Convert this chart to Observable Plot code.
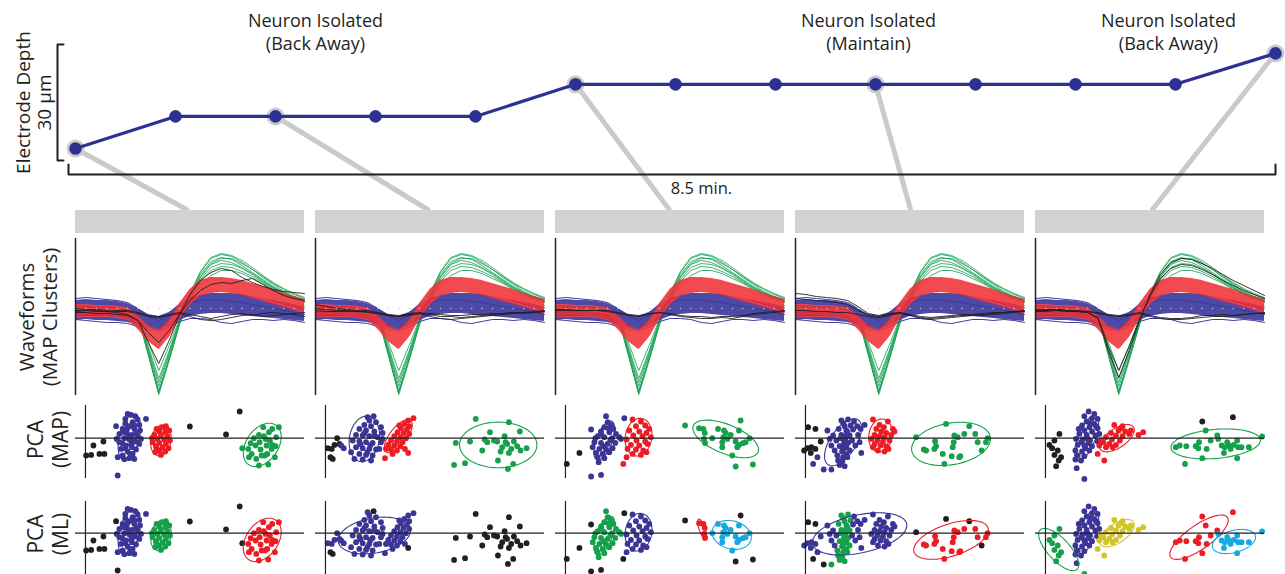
<!DOCTYPE html>
<html><head><meta charset="utf-8">
<script src="https://cdn.jsdelivr.net/npm/d3@7"></script>
<script src="https://cdn.jsdelivr.net/npm/@observablehq/plot@0.6"></script>
<style>
body{margin:0;background:#fff;}
#fig{position:relative;width:1285px;height:574px;overflow:hidden;background:#fff;}
</style></head><body><div id="fig"></div>
<script>
// ---------------- DATA ----------------
const panels = ["A","B","C","D","E"];
const steps = [0,1,2,3,4,5,6,7,8,9,10,11,12];
const depthUm = [3.1,11.4,11.4,11.4,11.4,19.7,19.7,19.7,19.7,19.7,19.7,19.7,27.7];
const sampledSteps = [0,2,5,8,12];
const annotT = [2.4, 7.93, 10.93];
const annotText = ["Neuron Isolated\n(Back Away)","Neuron Isolated\n(Maintain)","Neuron Isolated\n(Back Away)"];
const scaleBarUm = [0, 30];
const scaleBarLabel = "Electrode Depth\n30 μm";
const durationLabel = "8.5 min.";
const rowLabels = ["Waveforms\n(MAP Clusters)","PCA\n(MAP)","PCA\n(ML)"];
const sampleIdx = d3.range(23);

// waveform traces (23 samples), shared shapes
const greenTraces = [
 [0,0,1,1,0,0,-6,-45,-84,-50,-14,16,38,52,56,54,48,41,33,26,19,14,10],
 [-2,-1,0,0,-1,-2,-6,-40,-76,-44,-12,13,33,46,50,48,43,37,30,23,17,12,8],
 [1,1,2,1,0,-1,-5,-36,-68,-40,-10,12,29,40,44,43,39,34,28,22,17,13,10],
 [0,1,0,-1,-1,-2,-6,-32,-60,-35,-8,10,25,35,40,40,37,32,27,21,16,12,8],
 [-3,-2,-2,-1,-2,-3,-7,-42,-80,-48,-13,14,34,47,52,52,47,41,34,27,21,16,12],
 [2,2,1,1,1,0,-5,-43,-82,-47,-12,15,36,49,53,51,45,38,31,24,18,13,9],
 [-1,0,0,1,0,-1,-5,-38,-72,-42,-11,12,31,43,47,46,42,36,29,23,18,14,11],
 [1,0,-1,0,0,-1,-6,-44,-83,-49,-13,17,39,53,57,55,50,43,35,28,22,17,13]
];
const redHi = [5,5,5,5,4,3,-5,-15,-20,-10,7,21,30,33,33,32,30,27,24,21,17,14,11];
const redLo = [-5,-5,-5,-6,-7,-9,-19,-31,-39,-27,-9,5,14,17,18,17,15,12,9,6,3,0,-4];
const redTraces = [
 [1,0,0,0,-1,-3,-12,-23,-29,-18,0,14,22,25,25,24,22,19,16,13,10,7,3],
 [6,6,5,5,4,2,-7,-17,-22,-12,5,19,27,31,31,30,28,25,22,18,14,11,8],
 [-6,-6,-6,-6,-7,-9,-17,-30,-38,-25,-6,8,17,20,20,19,17,14,11,8,5,2,-2],
 [3,2,2,1,1,-1,-9,-20,-26,-15,3,17,25,28,29,28,27,24,21,17,13,9,5]
];
const blueHi = [10,11,10,10,9,7,2,-4,-6,-2,6,12,15,17,17,17,16,14,12,10,8,6,4];
const blueLo = [-10,-9,-10,-10,-11,-12,-15,-18,-20,-16,-10,-6,-4,-3,-3,-4,-5,-6,-7,-8,-9,-10,-11];
const blueTraces = [
 [12,13,12,11,10,8,2,-6,-10,-5,3,8,10,11,10,9,8,6,4,2,0,-2,-4],
 [-9,-10,-11,-12,-12,-13,-16,-19,-20,-17,-11,-8,-8,-9,-12,-13,-11,-9,-9,-10,-9,-10,-12]
];
const blackTraces = {
 A: [[2,1,0,-1,-2,-4,-10,-32,-53,-30,-4,16,30,38,42,40,33,28,24,21,19,18,17],
     [-2,-2,-3,-3,-4,-5,-10,-22,-32,-20,-4,10,20,26,28,27,30,32,26,20,15,12,10],
     [0,0,-1,-1,0,0,-2,-5,-6,-4,-2,-4,-6,-8,-6,-4,-3,-5,-3,-2,-3,-4,-6],
     [-1,0,1,0,-1,-1,-3,-6,-7,-5,-3,-6,-9,-10,-9,-7,-5,-4,-6,-5,-4,-3,-2]],
 B: [[6,4,2,1,0,0,-2,-4,-5,-3,-2,-4,-6,-6,-7,-6,-5,-4,-3,-2,-3,-2,-1],
     [2,1,0,0,-1,-1,-3,-5,-6,-4,-3,-6,-8,-9,-8,-7,-6,-5,-4,-3,-2,-2,-1],
     [0,-1,-1,-1,-1,-2,-3,-5,-6,-5,-3,-3,-4,-5,-5,-4,-4,-3,-3,-2,-2,-1,0]],
 C: [[0,0,0,0,0,0,-2,-4,-5,-3,-2,-3,-5,-6,-6,-7,-6,-6,-5,-3,-2,-1,0],
     [1,1,0,0,0,-1,-3,-5,-6,-4,-2,-4,-6,-7,-8,-8,-7,-8,-6,-4,-3,-2,-1]],
 D: [[17,16,14,13,12,10,4,-3,-5,-3,-2,-5,-7,-8,-7,-6,-5,-5,-4,-3,-2,-1,0],
     [12,11,10,9,8,6,0,-4,-6,-4,-2,-4,-6,-7,-6,-5,-4,-4,-3,-2,-2,-1,-1],
     [0,0,-1,-1,-2,-2,-4,-6,-7,-5,-3,-5,-8,-9,-8,-7,-6,-5,-5,-4,-3,-2,-1]],
 E: [[0,0,1,0,-1,-2,-8,-40,-67,-40,-10,16,36,48,52,51,47,42,36,30,25,20,15],
     [1,0,0,-1,-1,-2,-7,-36,-60,-36,-8,14,32,42,46,45,41,36,30,25,20,16,12],
     [-1,-1,0,0,0,-1,-2,-4,-5,-4,-2,-5,-7,-8,-8,-7,-5,-5,-4,-5,-4,-3,-2],
     [0,1,1,0,-1,-1,-3,-5,-6,-5,-3,-6,-8,-9,-9,-8,-7,-6,-6,-5,-4,-3,-3]]
};

// PCA points: groups by [MAP label, ML label]
const pcaA = [
 ["k","k",[[0.07,-1.73],[0.57,-1.67],[0.8,-0.73],[1.8,-0.33],[1.4,-1.57],[1.9,-1.57],[10.47,1.17],[14.1,0.37],[15.47,2.67]]],
 ["b","b",[[4.23,2.43],[4.57,2.33],[5.0,2.2],[5.23,1.87],[4.0,1.93],[4.73,1.6],[5.4,1.33],[4.4,1.2],[3.73,0.93],[4.9,0.93],[5.47,0.77],[4.13,0.6],[3.4,0.43],[4.67,0.33],[5.23,0.2],[3.9,0],[4.4,-0.13],[5.0,-0.33],[3.4,-0.4],[5.4,-0.57],[4.07,-0.73],[4.67,-0.9],[3.57,-1.07],[5.07,-1.13],[4.23,-1.33],[4.73,-1.57],[3.73,-1.73],[4.4,-2.0],[4.9,-2.07],[3.23,-1.9],[5.57,-0.07],[3.13,-0.07],[6.07,1.93],[4.0,1.5],[4.9,1.3],[4.3,0.3],[3.7,-0.5],[4.8,-0.2],[4.0,-1.0],[4.5,-1.6],[3.9,-2.1],[4.2,1.0],[5.1,0.5],[3.9,0.6],[4.6,-0.6]]],
 ["b","k",[[3.07,1.2],[3.23,-3.73]]],
 ["r","g",[[7.13,0.93],[7.67,1.1],[8.07,1.2],[7.4,0.67],[8.0,0.6],[8.4,0.77],[6.9,0.33],[7.57,0.27],[8.23,0.2],[7.23,-0.07],[7.9,-0.13],[8.47,-0.23],[6.73,-0.4],[7.4,-0.47],[8.07,-0.57],[7.07,-0.8],[7.73,-0.9],[8.33,-1.0],[7.4,-1.23],[8.0,-1.33],[7.0,-1.4],[7.57,-1.67],[7.13,-1.07],[8.13,0.93],[6.67,0]]],
 ["g","r",[[16.57,-0.5],[16.33,-1.07],[16.67,-1.57],[17.07,-0.73],[16.9,0],[17.4,0.33],[17.47,-0.4],[17.57,-1.13],[17.67,-1.73],[18.07,-0.07],[18.17,-0.73],[18.23,-1.57],[18.4,0.6],[18.5,-0.23],[18.73,-0.67],[18.67,-1.07],[19.07,-0.8],[19.13,0.1],[19.4,1.1],[18.73,0.93],[17.83,1.1],[18.33,-2.63],[17.4,-2.73],[19.0,-1.9],[17.13,-2.07],[16.4,-1.9],[17.9,0.2],[18.0,-1.73]]],
 ["g","k",[[15.73,-1.0]]]
];
const pcaB = [
 ["k","b",[[0.23,-1.0],[0.63,-1.07],[0.9,-0.67],[1.17,0],[1.4,-0.57]]],
 ["k","k",[[0.5,-1.9],[0.73,-2.07]]],
 ["b","b",[[4.4,1.77],[5.07,1.6],[3.9,1.33],[4.57,1.2],[5.57,1.1],[3.4,0.93],[4.07,0.77],[4.9,0.67],[5.73,0.53],[3.07,0.33],[3.73,0.27],[4.4,0.2],[5.23,0.1],[2.73,-0.23],[3.4,-0.33],[4.07,-0.4],[4.73,-0.47],[5.57,-0.4],[3.07,-0.9],[3.73,-1.0],[4.4,-1.07],[5.07,-1.13],[2.57,-1.4],[3.4,-1.57],[4.07,-1.67],[4.73,-1.73],[2.9,-2.07],[3.73,-2.13],[4.57,-2.23],[5.4,-1.07],[5.73,-0.07],[1.57,-0.73],[1.83,-1.0],[4.23,2.1],[3.9,0.5],[4.5,-0.7],[3.5,-0.6],[4.2,-1.4],[4.9,0.3]]],
 ["b","k",[[4.83,2.2]]],
 ["r","b",[[8.83,2.0],[8.3,1.77],[7.9,1.43],[8.4,1.2],[7.57,1.0],[8.17,0.87],[7.23,0.6],[7.83,0.53],[8.4,0.43],[6.9,0.2],[7.5,0.1],[8.07,0],[6.57,-0.23],[7.17,-0.33],[7.73,-0.4],[6.3,-0.67],[6.9,-0.73],[7.5,-0.8],[6.57,-1.13],[7.17,-1.23],[6.07,-1.07],[6.73,-1.57],[5.97,-2.0],[7.97,-1.07],[7.4,1.27]]],
 ["r","k",[[8.3,-1.47]]],
 ["g","k",[[15.07,1.93],[18.4,1.6],[19.5,0.67],[16.5,0.6],[17.97,0.2],[15.97,-0.13],[14.5,-0.33],[13.07,-0.47],[16.23,-0.4],[17.23,-0.33],[18.9,-0.33],[18.23,-0.57],[19.23,-0.8],[17.73,-0.9],[18.63,-1.07],[15.73,-1.23],[17.57,-1.33],[18.4,-1.47],[20.17,-1.0],[19.57,-1.23],[17.3,-2.23],[18.83,-2.57],[18.3,-3.07],[14.0,-2.5],[12.9,-2.67],[18.07,-0.4],[16.9,-0.23]]]
];
const pcaC = [
 ["k","k",[[1.4,-1.47],[0.13,-2.57]]],
 ["b","g",[[4.07,2.2],[4.23,1.6],[4.57,1.33],[3.9,1.1],[4.8,0.93],[3.57,0.67],[4.4,0.6],[5.07,0.43],[3.23,0.2],[3.9,0.1],[4.67,0],[5.4,0.1],[2.9,-0.4],[3.57,-0.47],[4.23,-0.57],[5.0,-0.47],[2.73,-0.9],[3.4,-1.07],[4.07,-1.13],[4.73,-1.0],[3.07,-1.47],[3.73,-1.57],[4.4,-1.4],[3.23,-1.9],[3.9,-2.0],[3.33,-2.4],[5.57,-0.07],[3.0,0],[4.3,1.0],[3.8,-0.8],[4.5,-0.2],[3.6,0.4]]],
 ["b","k",[[2.57,0.87],[5.9,2.0],[2.57,-3.83],[3.57,-3.67]]],
 ["r","b",[[6.73,1.87],[7.57,1.67],[8.0,1.27],[7.07,1.2],[8.4,0.93],[6.4,0.77],[7.4,0.67],[8.13,0.53],[6.8,0.27],[7.73,0.2],[8.57,0.1],[6.13,-0.13],[7.13,-0.23],[8.0,-0.33],[6.57,-0.67],[7.4,-0.73],[8.23,-0.57],[6.23,-1.07],[7.07,-1.13],[7.8,-1.23],[6.73,-1.57],[7.57,-1.67],[8.13,-1.4],[6.13,-1.9]]],
 ["r","k",[[5.8,-2.57]]],
 ["g","k",[[12.0,1.27],[17.57,1.77],[17.07,-2.83],[18.8,-2.63]]],
 ["g","r",[[13.4,1.0],[13.83,0.93],[13.97,0.53],[13.9,-0.07],[14.0,-0.47]]],
 ["g","c",[[15.3,0.93],[15.9,0.77],[17.4,0.77],[14.73,0],[15.83,0.1],[16.57,0.33],[15.73,-0.4],[16.23,-0.07],[17.07,-0.33],[17.4,-0.67],[17.8,-0.5],[18.07,-0.4],[17.23,-0.9],[18.47,0],[15.73,-0.9],[16.73,-1.73],[16.07,0.53]]]
];
const pcaD = [
 ["k","k",[[0.27,1.1],[1.0,0.93]]],
 ["k","b",[[1.53,-0.33],[0.2,-1.0],[0.6,-0.9],[1.0,-1.07],[-0.13,-1.23],[0.53,-1.47]]],
 ["b","g",[[3.6,1.77],[4.27,1.87],[4.53,1.27],[3.93,1.2],[3.33,0.93],[4.1,0.77],[3.6,0.33],[4.43,0.27],[3.87,-0.33],[3.43,-0.8],[4.1,-0.9],[3.67,-1.33],[4.43,-1.23],[3.2,-1.73],[3.77,-1.9],[3.43,-2.67],[3.93,-2.8],[2.6,-3.13],[4.27,-0.47],[3.53,0],[3.27,-2.23],[3.9,0.2],[4.0,-0.6],[3.8,-1.1],[4.1,-1.6],[3.7,-2.3],[4.2,0.6],[3.8,1.5],[4.0,-0.1],[3.6,-0.8],[4.2,-1.9]]],
 ["b","b",[[4.87,1.67],[5.2,1.2],[4.77,0.87],[5.53,0.93],[5.93,1.33],[2.2,0.77],[2.43,-0.07],[2.77,0.27],[5.27,0.33],[3.1,-0.23],[4.67,-0.23],[5.43,-0.4],[2.6,-0.73],[5.0,-0.73],[2.93,-1.23],[5.6,-1.47],[1.2,-1.9]]],
 ["b","k",[[0.77,-2.57],[1.83,-3.13]]],
 ["r","b",[[6.77,1.87],[8.27,1.67],[7.43,1.33],[7.87,1.1],[7.1,0.93],[8.77,0.93],[8.93,0.67],[7.6,0.67],[8.1,0.53],[6.93,0.33],[7.43,0.2],[7.93,0.1],[6.6,-0.07],[7.2,-0.23],[7.77,-0.33],[8.43,-0.23],[6.93,-0.57],[7.53,-0.73],[8.1,-0.8],[7.27,-1.23],[7.93,-1.33],[8.33,-1.07],[6.77,-0.9],[8.6,0.33]]],
 ["g","k",[[11.1,0.1],[16.43,1.2],[17.67,-1.23],[14.1,1.43]]],
 ["g","r",[[11.87,-1.13],[12.1,-1.23],[13.0,-0.3],[13.1,-0.8],[13.77,-1.57],[13.93,-2.57],[14.77,-0.9],[14.87,-0.4],[14.93,0.27],[15.27,0.1],[15.43,-1.9],[15.53,-1.8],[15.93,0.43],[17.03,0.43],[17.27,-0.4],[18.1,-0.4],[18.27,0],[12.93,-1.07],[14.67,-1.8]]]
];
const pcaE = [
 ["k","g",[[1.4,0.43],[0.9,-0.23],[0.4,-0.67],[0.67,-1.0],[1.23,-1.23],[0.9,-1.67],[1.57,-1.9],[1.33,-2.23],[1.07,-2.8]]],
 ["k","r",[[15.73,1.67],[18.8,2.1]]],
 ["b","b",[[4.33,2.67],[4.9,2.43],[3.9,2.2],[4.67,2.0],[5.23,1.93],[4.13,1.67],[4.9,1.43],[3.67,1.27],[4.4,1.1],[5.23,1.0],[3.9,0.77],[4.67,0.67],[3.4,0.43],[4.13,0.33],[5.0,0.27],[3.07,-0.07],[3.73,-0.13],[4.47,-0.23],[5.23,-0.33],[3.23,-0.67],[3.9,-0.73],[4.67,-0.8],[3.0,-1.23],[3.67,-1.33],[4.4,-1.23],[3.23,-1.73],[3.9,-1.8],[3.0,-2.13],[3.57,-2.23],[3.13,-3.0],[5.07,1.2],[5.4,0.43],[3.33,0.93],[4.2,0.0],[4.0,-1.0],[3.6,-0.4],[4.5,1.5],[4.3,-0.5]]],
 ["b","g",[[3.9,-4.07]]],
 ["r","y",[[6.9,1.33],[7.73,1.2],[8.0,0.67],[7.33,0.77],[6.57,0.53],[8.4,0.43],[7.07,0.27],[7.73,0.2],[6.07,0.1],[6.67,-0.13],[7.47,-0.23],[5.8,-0.4],[6.4,-0.57],[7.07,-0.67],[5.4,-0.73],[6.07,-0.9],[6.73,-0.9],[5.23,-1.57],[5.9,-2.23],[9.33,0.33],[9.8,0.6],[7.57,1.0],[5.57,-0.23],[8.57,0.77]]],
 ["g","r",[[13.07,-0.9],[13.47,-0.73],[14.13,-0.8],[15.07,-0.8],[15.33,-1.0],[16.07,0.77],[16.17,-1.07],[15.73,-2.0],[14.0,-2.57],[17.23,0.27],[16.57,-0.23],[15.4,-0.4]]],
 ["g","c",[[17.33,-0.07],[17.67,-0.73],[18.0,-0.9],[18.23,-0.4],[18.4,-0.73],[18.57,-1.07],[18.9,-0.67],[19.23,-0.23],[19.33,-0.9],[19.23,-2.0],[19.67,-0.9],[20.4,-0.9],[21.73,0.17],[17.9,-1.47]]]
];
// cluster ellipses: [panel, cx, cy, semi-major, semi-minor, angle(deg), label]
const ellipsesMAP = [
 ["A",4.4,0.1,2.35,1.0,76,"b"],["A",7.57,-0.23,1.55,1.0,78,"r"],["A",17.73,-0.67,2.4,1.6,55,"g"],
 ["B",3.9,-0.07,2.3,1.5,80,"b"],["B",7.3,0.2,2.0,0.85,52,"r"],["B",17.33,-0.67,3.88,2.28,0,"g"],
 ["C",3.9,-0.23,2.06,0.8,69,"b"],["C",7.33,0.1,1.9,1.33,80,"r"],["C",16.07,-0.07,3.5,1.45,-22,"g"],
 ["D",3.77,-0.4,2.7,1.3,56,"b"],["D",7.53,0.27,1.67,1.17,80,"r"],["D",14.6,-0.57,4.0,2.08,10,"g"],
 ["E",4.13,0,2.43,0.85,68,"b"],["E",7.17,0,2.0,0.95,34,"r"],["E",17.07,-0.57,4.5,1.45,5,"g"]
];
const ellipsesML = [
 ["A",4.4,0.1,2.35,1.0,76,"b"],["A",7.57,-0.23,1.55,1.0,78,"g"],["A",17.73,-0.67,2.4,1.6,55,"r"],
 ["B",4.9,-0.23,3.67,1.75,10,"b"],
 ["C",3.9,-0.23,2.06,0.8,69,"g"],["C",7.33,0.1,1.9,1.33,80,"b"],["C",13.73,0.37,1.1,0.3,-71,"r"],["C",16.67,-0.17,2.0,1.4,-15,"c"],
 ["D",5.43,-0.07,4.83,1.9,12,"b"],["D",14.6,-0.67,3.9,1.6,18,"r"],
 ["E",1.33,-1.63,2.7,1.1,-47,"g"],["E",4.13,0,2.43,0.85,68,"b"],["E",7.17,0,2.0,0.95,34,"y"],["E",15.4,-0.4,3.47,1.2,35,"r"],["E",18.9,-0.83,2.23,1.1,15,"c"]
];

// ---------------- STYLE / LAYOUT ----------------
const colors = {k:"#231f20", b:"#3b3596", r:"#ed1c24", g:"#15a04a", c:"#16a8e0", y:"#d2c52a"};
const L = {W:1285, topH:212, depthX:[75,1275], depthY:[160,44], barTop:210, barH:23,
  panelLeft:73, panelRight:19, facetPad:0.046,
  waveTop:234, waveH:162, mapTop:398, mapH:82, mlTop:493, mlH:81,
  bracketX:57, bracketTick:6, timeBarY:174, timeBarTickY:164, timeBarLeft:68, durationX:701, durationY:188};
const font = '"Open Sans", sans-serif';
const styleObj = {background:"transparent", fontFamily:font, overflow:"visible", color:"#231f20"};
const fig = document.getElementById("fig");
function place(svg, topPx){ svg.style.position="absolute"; svg.style.left="0px"; svg.style.top=topPx+"px"; fig.appendChild(svg); }

const tMax = steps[steps.length-1];
const xs = Plot.scale({x:{domain:[0,tMax], range:L.depthX}});
const ys = Plot.scale({y:{domain:[0,30], range:L.depthY}});
const fxs = Plot.scale({x:{type:"band", domain:panels, range:[L.panelLeft, L.W - L.panelRight], paddingInner:L.facetPad, paddingOuter:0}});
const fxOpts = {domain:panels, paddingInner:L.facetPad, paddingOuter:0, axis:null};

// ---------------- TOP: electrode depth ----------------
const depthData = steps.map((t,i)=>({t, d:depthUm[i]}));
const sampled = sampledSteps.map(s=>depthData[s]);
const conn = sampledSteps.map((s,k)=>({t:s, d:depthUm[s],
  tx: xs.invert(fxs.apply(panels[k]) + fxs.bandwidth/2), ty: ys.invert(L.barTop)}));
const bx = xs.invert(L.bracketX), bxt = xs.invert(L.bracketX + L.bracketTick);
const bracket = [{x:bxt,y:scaleBarUm[1]},{x:bx,y:scaleBarUm[1]},{x:bx,y:scaleBarUm[0]},{x:bxt,y:scaleBarUm[0]}];
const tbY = ys.invert(L.timeBarY), tbT = ys.invert(L.timeBarTickY), tbL = xs.invert(L.timeBarLeft);
const timeBar = [{x:tbL,y:tbT},{x:tbL,y:tbY},{x:tMax,y:tbY},{x:tMax,y:tbT}];
const annots = annotT.map((t,i)=>({t, text:annotText[i]}));

const depthPlot = Plot.plot({
  width:L.W, height:L.topH, margin:0, style:styleObj,
  x:{domain:[0,tMax], range:L.depthX, axis:null},
  y:{domain:[0,30], range:L.depthY, axis:null},
  marks:[
    Plot.link(conn, {x1:"t", y1:"d", x2:"tx", y2:"ty", stroke:"#c9cacc", strokeWidth:5}),
    Plot.dot(sampled, {x:"t", y:"d", r:9, fill:"#cbccce"}),
    Plot.line(depthData, {x:"t", y:"d", stroke:"#2e3192", strokeWidth:3.2}),
    Plot.dot(depthData, {x:"t", y:"d", r:6.3, fill:"#2e3192"}),
    Plot.line(bracket, {x:"x", y:"y", stroke:"#231f20", strokeWidth:2}),
    Plot.line(timeBar, {x:"x", y:"y", stroke:"#231f20", strokeWidth:2}),
    Plot.text([{t:steps[0], d:(scaleBarUm[0]+scaleBarUm[1])/2, label:scaleBarLabel}],
      {x:"t", y:"d", text:"label", dx:-42, rotate:-90, textAnchor:"middle", fontSize:19, lineHeight:1.15, fill:"#231f20"}),
    Plot.text(annots, {x:"t", text:"text", frameAnchor:"top", textAnchor:"middle", lineAnchor:"top", dy:10, fontSize:18, lineHeight:1.28, fill:"#231f20"}),
    Plot.text([{x:xs.invert(L.durationX), y:ys.invert(L.durationY), label:durationLabel}],
      {x:"x", y:"y", text:"label", fontSize:16.5, fill:"#231f20"})
  ]
});
place(depthPlot, 0);

// ---------------- gray bars ----------------
const bars = Plot.plot({
  width:L.W, height:L.barH, marginLeft:L.panelLeft, marginRight:L.panelRight, marginTop:0, marginBottom:0, style:styleObj,
  x:{type:"band", domain:panels, paddingInner:L.facetPad, paddingOuter:0, axis:null},
  marks:[Plot.cell(panels, {x:d=>d, fill:"#d1d2d4", inset:0})]
});
place(bars, L.barTop);

// ---------------- waveforms ----------------
const waveRows = [], bandRows = [];
function addTraces(panel, cluster, traces){
  traces.forEach((tr,j)=>tr.forEach((v,i)=>waveRows.push({panel, cluster, id:panel+cluster+j, i, v})));
}
for (const p of panels){
  addTraces(p,"g",greenTraces);
  addTraces(p,"b",blueTraces);
  addTraces(p,"r",redTraces);
  addTraces(p,"k",blackTraces[p]);
  sampleIdx.forEach(i=>{
    bandRows.push({panel:p, cluster:"b", i, lo:blueLo[i], hi:blueHi[i]});
    bandRows.push({panel:p, cluster:"r", i, lo:redLo[i], hi:redHi[i]});
  });
}
const sel = c => waveRows.filter(d=>d.cluster===c);
const selB = c => bandRows.filter(d=>d.cluster===c);
const sampleDots = panels.flatMap(p=>sampleIdx.map(i=>({panel:p, i})));
const wave = Plot.plot({
  width:L.W, height:L.waveH, marginLeft:L.panelLeft, marginRight:L.panelRight, marginTop:4, marginBottom:1, style:styleObj,
  fx:fxOpts, x:{domain:[0,22], axis:null}, y:{domain:[-85,72], axis:null},
  marks:[
    Plot.line(sel("g"), {fx:"panel", x:"i", y:"v", z:"id", stroke:"#1ea556", strokeOpacity:0.85, strokeWidth:1}),
    Plot.areaY(selB("b"), {fx:"panel", x:"i", y1:"lo", y2:"hi", fill:"#3d39a0", fillOpacity:0.92}),
    Plot.line(sel("b"), {fx:"panel", x:"i", y:"v", z:"id", stroke:"#3d39a0", strokeWidth:1}),
    Plot.areaY(selB("r"), {fx:"panel", x:"i", y1:"lo", y2:"hi", fill:"#ee2d33", fillOpacity:0.85}),
    Plot.line(sel("r"), {fx:"panel", x:"i", y:"v", z:"id", stroke:"#f0474b", strokeOpacity:0.9, strokeWidth:1}),
    Plot.line(sel("k"), {fx:"panel", x:"i", y:"v", z:"id", stroke:"#231f20", strokeWidth:0.9}),
    Plot.dot(sampleDots, {fx:"panel", x:"i", y:()=>2, r:0.8, fill:"#c4c4c4"}),
    Plot.ruleX(panels.map(p=>({panel:p, x:0})), {fx:"panel", x:"x", stroke:"#231f20", strokeWidth:1.5}),
    Plot.text([{panel:panels[0], label:rowLabels[0]}], {fx:"panel", text:"label", frameAnchor:"left", textAnchor:"middle", dx:-37, rotate:-90, fontSize:20.5, lineHeight:1.1, fill:"#231f20"})
  ]
});
place(wave, L.waveTop);

// ---------------- PCA rows ----------------
const pcaSets = {A:pcaA, B:pcaB, C:pcaC, D:pcaD, E:pcaE};
const pcaRows = panels.flatMap(p=>pcaSets[p].flatMap(([m,l,pts])=>pts.map(([u,v])=>({panel:p, u, v, map:m, ml:l}))));
function ellipseRows(list){
  return list.flatMap(([p,cx,cy,a,b,ang,lab],k)=>{
    const phi = ang*Math.PI/180;
    return d3.range(73).map(j=>{
      const th = 2*Math.PI*j/72;
      return {panel:p, id:k, lab,
        x: cx + a*Math.cos(th)*Math.cos(phi) - b*Math.sin(th)*Math.sin(phi),
        y: cy + a*Math.cos(th)*Math.sin(phi) + b*Math.sin(th)*Math.cos(phi)};
    });
  });
}
function pcaPlot(key, ellipses, h, yDomain, insetTop, insetBottom, label){
  return Plot.plot({
    width:L.W, height:h, marginLeft:L.panelLeft, marginRight:L.panelRight, marginTop:0, marginBottom:0, style:styleObj,
    fx:fxOpts, x:{domain:[-1,21.97], axis:null}, y:{domain:yDomain, axis:null}, color:{type:"identity"},
    marks:[
      Plot.dot(pcaRows, {fx:"panel", x:"u", y:"v", r:2.9, fill:d=>colors[d[key]]}),
      Plot.line(ellipseRows(ellipses), {fx:"panel", x:"x", y:"y", z:"id", stroke:d=>colors[d.lab], strokeWidth:1.1}),
      Plot.ruleY(panels.map(p=>({panel:p, y:0})), {fx:"panel", y:"y", stroke:"#231f20", strokeWidth:1.2}),
      Plot.ruleX(panels.map(p=>({panel:p, x:0})), {fx:"panel", x:"x", stroke:"#231f20", strokeWidth:1.2, insetTop, insetBottom}),
      Plot.text([{panel:panels[0], label}], {fx:"panel", text:"label", frameAnchor:"left", textAnchor:"middle", dx:-28, rotate:-90, fontSize:21, lineHeight:1.2, fill:"#231f20"})
    ]
  });
}
place(pcaPlot("map", ellipsesMAP, L.mapH, [-4.23,3.97], 7, 2, rowLabels[1]), L.mapTop);
place(pcaPlot("ml", ellipsesML, L.mlH, [-4.13,3.97], 8, 0, rowLabels[2]), L.mlTop);
</script></body></html>
